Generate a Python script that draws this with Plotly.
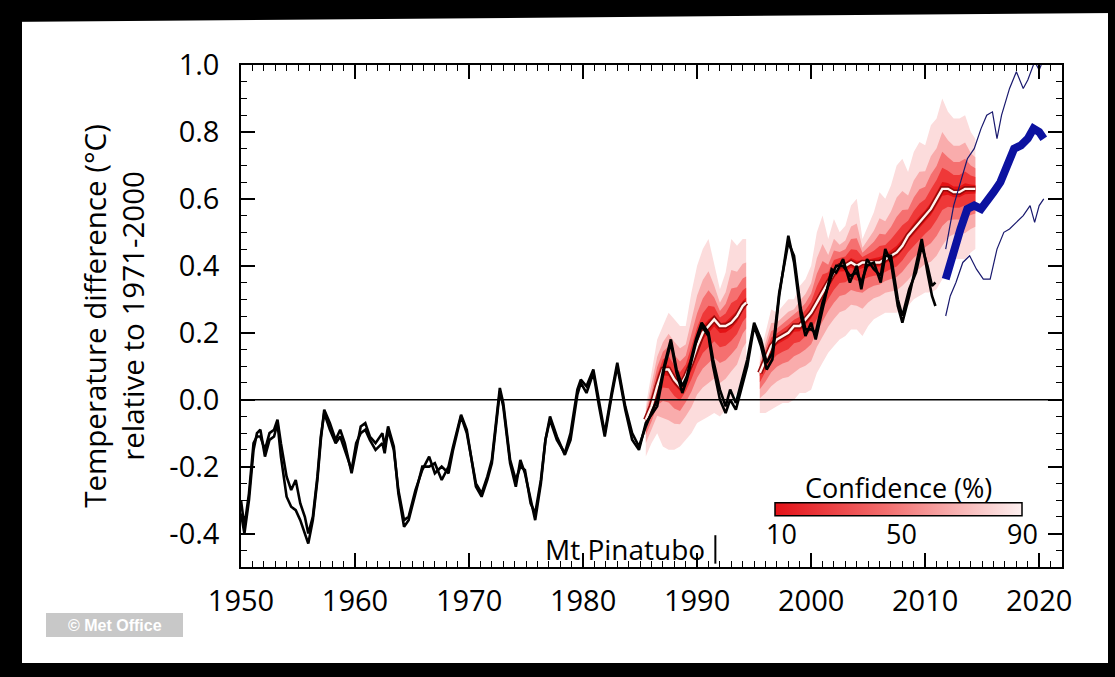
import plotly.graph_objects as go
from statistics import NormalDist

# ---------------- data ----------------
obs_years = [1950.0, 1950.3, 1950.7, 1951.1, 1951.4, 1951.7, 1952.1, 1952.5, 1952.9, 1953.2,
             1953.5, 1954.0, 1954.4, 1954.8, 1955.2, 1955.6, 1955.9, 1956.3, 1956.7, 1957.0,
             1957.3, 1957.8, 1958.3, 1958.7, 1959.1, 1959.7, 1960.1, 1960.5, 1960.9, 1961.3,
             1961.8, 1962.4, 1962.6, 1962.9, 1963.4, 1963.8, 1964.3, 1964.7, 1965.3, 1965.9,
             1966.5, 1967.0, 1967.6, 1968.2, 1968.6, 1969.3, 1969.8, 1970.2, 1970.6, 1971.1,
             1971.6, 1972.0, 1972.4, 1972.7, 1973.0, 1973.3, 1973.6, 1974.1, 1974.5, 1974.9,
             1975.4, 1975.8, 1976.3, 1976.7, 1977.1, 1977.7, 1978.4, 1978.9, 1979.5, 1979.8,
             1980.3, 1980.9, 1981.4, 1981.9, 1982.5, 1983.0, 1983.7, 1984.3, 1984.9, 1985.5,
             1986.1, 1986.5, 1987.1, 1987.7, 1988.2, 1988.7, 1989.1, 1989.9, 1990.4, 1991.0,
             1991.4, 1992.0, 1992.5, 1992.9, 1993.4, 1993.8, 1994.4, 1995.0, 1995.6, 1996.1,
             1996.6, 1997.2, 1998.0, 1998.5, 1999.1, 1999.5, 2000.0, 2000.4, 2001.0, 2001.8,
             2002.2, 2002.8, 2003.4, 2004.0, 2004.4, 2004.9, 2005.5, 2006.1, 2006.5, 2007.0,
             2007.6, 2008.0, 2008.6, 2009.2, 2009.7, 2010.2, 2010.6, 2010.9]

obs_a = [-0.34, -0.40, -0.30, -0.15, -0.10, -0.09, -0.17, -0.12, -0.11, -0.07,
         -0.17, -0.29, -0.32, -0.33, -0.36, -0.40, -0.43, -0.36, -0.24, -0.12,
         -0.03, -0.07, -0.12, -0.09, -0.13, -0.22, -0.15, -0.08, -0.07, -0.11,
         -0.13, -0.10, -0.14, -0.08, -0.14, -0.28, -0.38, -0.36, -0.28, -0.20,
         -0.20, -0.19, -0.24, -0.20, -0.14, -0.045, -0.09, -0.18, -0.26, -0.29,
         -0.24, -0.19, -0.07, 0.025, -0.02, -0.10, -0.19, -0.26, -0.18, -0.22,
         -0.30, -0.36, -0.25, -0.12, -0.05, -0.11, -0.165, -0.12, 0.015, 0.05,
         0.02, 0.08, -0.02, -0.11, 0.01, 0.10, -0.03, -0.12, -0.15, -0.07,
         -0.04, -0.02, 0.09, 0.17, 0.08, 0.02, 0.06, 0.17, 0.22, 0.19,
         0.10, 0.00, -0.04, 0.00, -0.03, 0.02, 0.10, 0.22, 0.16, 0.09,
         0.12, 0.31, 0.49, 0.41, 0.25, 0.19, 0.23, 0.18, 0.27, 0.39,
         0.38, 0.42, 0.35, 0.40, 0.33, 0.42, 0.39, 0.37, 0.45, 0.41,
         0.28, 0.23, 0.31, 0.40, 0.48, 0.38, 0.31, 0.28]

obs_b = [-0.30, -0.38, -0.28, -0.13, -0.11, -0.11, -0.15, -0.10, -0.09, -0.06,
         -0.13, -0.23, -0.27, -0.24, -0.31, -0.35, -0.40, -0.35, -0.23, -0.11,
         -0.04, -0.09, -0.13, -0.11, -0.15, -0.21, -0.13, -0.10, -0.09, -0.12,
         -0.15, -0.13, -0.16, -0.09, -0.15, -0.27, -0.36, -0.35, -0.27, -0.21,
         -0.17, -0.22, -0.20, -0.22, -0.15, -0.05, -0.10, -0.18, -0.25, -0.28,
         -0.23, -0.18, -0.06, 0.035, -0.01, -0.10, -0.18, -0.24, -0.20, -0.21,
         -0.31, -0.34, -0.24, -0.12, -0.06, -0.12, -0.16, -0.10, 0.03, 0.06,
         0.04, 0.09, 0.00, -0.10, 0.02, 0.11, -0.02, -0.10, -0.14, -0.08,
         -0.03, 0.00, 0.10, 0.18, 0.09, 0.04, 0.07, 0.18, 0.23, 0.20,
         0.12, 0.03, -0.02, 0.03, -0.01, 0.04, 0.12, 0.23, 0.18, 0.11,
         0.14, 0.32, 0.47, 0.43, 0.27, 0.21, 0.21, 0.20, 0.29, 0.37,
         0.40, 0.40, 0.37, 0.38, 0.35, 0.40, 0.41, 0.35, 0.43, 0.43,
         0.30, 0.25, 0.33, 0.38, 0.46, 0.40, 0.34, 0.35]

# hindcast set 1 (ensemble mean and 90 % range)
hind1_years = [1985.5, 1986.0, 1986.5, 1987.0, 1987.5, 1988.0, 1988.5, 1989.0, 1989.5, 1990.0,
               1990.5, 1991.0, 1991.5, 1992.0, 1992.5, 1993.0, 1993.5, 1994.0, 1994.3]
hind1_mid = [-0.06, -0.02, 0.04, 0.09, 0.09, 0.06, 0.04, 0.07, 0.11, 0.16,
             0.20, 0.22, 0.24, 0.22, 0.22, 0.23, 0.25, 0.28, 0.29]
hind1_hi = [-0.02, 0.08, 0.18, 0.22, 0.26, 0.24, 0.22, 0.22, 0.32, 0.40,
            0.45, 0.48, 0.40, 0.33, 0.38, 0.48, 0.46, 0.48, 0.48]
hind1_lo = [-0.17, -0.13, -0.10, -0.14, -0.15, -0.15, -0.14, -0.12, -0.10, -0.07,
            -0.06, -0.05, -0.04, -0.05, -0.03, 0.00, 0.02, 0.08, 0.10]

# hindcast set 2
hind2_years = [1995.5, 1996.0, 1996.5, 1997.0, 1997.5, 1998.0, 1998.5, 1999.0, 1999.5, 2000.0,
               2000.5, 2001.0, 2001.5, 2002.0, 2002.5, 2003.0, 2003.5, 2004.0, 2004.5, 2005.0,
               2005.5, 2006.0, 2006.5, 2007.0, 2007.5, 2008.0, 2008.5, 2009.0, 2009.5, 2010.0,
               2010.5, 2011.0, 2011.5, 2012.0, 2012.5, 2013.0, 2013.5, 2014.0, 2014.4]
hind2_mid = [0.08, 0.12, 0.16, 0.18, 0.19, 0.20, 0.22, 0.22, 0.24, 0.26,
             0.29, 0.32, 0.35, 0.38, 0.40, 0.40, 0.41, 0.40, 0.41, 0.41,
             0.41, 0.41, 0.42, 0.43, 0.44, 0.46, 0.49, 0.51, 0.53, 0.55,
             0.57, 0.60, 0.63, 0.63, 0.62, 0.62, 0.63, 0.63, 0.63]
hind2_hi = [0.13, 0.20, 0.27, 0.26, 0.28, 0.30, 0.30, 0.34, 0.36, 0.40,
            0.50, 0.55, 0.48, 0.54, 0.50, 0.52, 0.58, 0.60, 0.48, 0.52,
            0.56, 0.62, 0.60, 0.64, 0.70, 0.72, 0.68, 0.74, 0.77, 0.76,
            0.82, 0.84, 0.90, 0.86, 0.84, 0.84, 0.85, 0.80, 0.78]
hind2_lo = [-0.04, -0.04, -0.03, -0.02, -0.01, -0.01, 0.00, 0.02, 0.02, 0.03,
            0.08, 0.11, 0.14, 0.16, 0.18, 0.19, 0.21, 0.21, 0.19, 0.22,
            0.24, 0.25, 0.26, 0.26, 0.26, 0.27, 0.28, 0.30, 0.31, 0.32,
            0.32, 0.33, 0.36, 0.40, 0.42, 0.42, 0.42, 0.44, 0.45]

# forecast (blue)
fc_years = [2011.8, 2012.5, 2013.1, 2013.7, 2014.3, 2014.9, 2015.4, 2016.0, 2016.6, 2017.2,
            2017.8, 2018.4, 2019.0, 2019.5, 2020.0, 2020.4]
fc_mid = [0.36, 0.45, 0.51, 0.57, 0.58, 0.57, 0.59, 0.62, 0.65, 0.70,
          0.75, 0.76, 0.78, 0.81, 0.80, 0.78]
fc_hi_years = [2011.8, 2012.5, 2013.1, 2013.7, 2014.3, 2014.9, 2015.4, 2015.9, 2016.3, 2016.7,
               2017.4, 2018.0, 2018.6, 2019.0, 2019.6, 2020.0, 2020.4]
fc_hi = [0.45, 0.58, 0.65, 0.72, 0.75, 0.81, 0.85, 0.86, 0.78, 0.85,
         0.93, 0.98, 0.93, 0.955, 1.01, 0.985, 1.02]
fc_lo_years = [2011.8, 2012.2, 2012.7, 2013.3, 2013.9, 2014.5, 2015.1, 2015.7, 2016.3, 2016.9,
               2017.4, 2018.0, 2018.6, 2019.2, 2019.6, 2020.0, 2020.4]
fc_lo = [0.25, 0.31, 0.35, 0.41, 0.43, 0.39, 0.36, 0.36, 0.45, 0.50,
         0.51, 0.53, 0.55, 0.58, 0.53, 0.58, 0.60]

conf_levels = [90, 70, 50, 30, 10]
conf_colors = ['rgb(252,220,220)', 'rgb(249,172,172)', 'rgb(245,112,112)',
               'rgb(239,56,56)', 'rgb(228,18,20)']
conf_ticks = [10, 50, 90]
conf_min, conf_max = 8, 90

pinatubo_year = 1991.6

x_tick_vals = [1950, 1960, 1970, 1980, 1990, 2000, 2010, 2020]
y_tick_vals = [-0.4, -0.2, 0.0, 0.2, 0.4, 0.6, 0.8, 1.0]
y_tick_text = ['-0.4', '-0.2', '0.0', '0.2', '0.4', '0.6', '0.8', '1.0']

# ---------------- figure ----------------
W, H = 1115, 677
ML, MR, MT, MB = 241, 53, 65, 110
PW, PH = W - ML - MR, H - MT - MB


def px(xp):
    return (xp - ML) / PW


def py(yp):
    return (H - MB - yp) / PH


FONT = 'Open Sans'
fig = go.Figure()

z90 = NormalDist().inv_cdf(0.5 + 90 / 200)


def add_fan(years, mid, hi, lo):
    for lev, col in zip(conf_levels, conf_colors):
        f = NormalDist().inv_cdf(0.5 + lev / 200) / z90
        up = [m + f * (h - m) for m, h in zip(mid, hi)]
        dn = [m - f * (m - l) for m, l in zip(mid, lo)]
        fig.add_trace(go.Scatter(x=years + years[::-1], y=up + dn[::-1], fill='toself',
                                 fillcolor=col, line=dict(width=0), mode='lines',
                                 hoverinfo='skip', showlegend=False))


add_fan(hind1_years, hind1_mid, hind1_hi, hind1_lo)
add_fan(hind2_years, hind2_mid, hind2_hi, hind2_lo)

for yrs, mid in [(hind1_years, hind1_mid), (hind2_years, hind2_mid)]:
    fig.add_trace(go.Scatter(x=yrs, y=mid, mode='lines', line=dict(color='rgb(150,10,10)', width=5.5),
                             showlegend=False, hoverinfo='skip'))
    fig.add_trace(go.Scatter(x=yrs, y=mid, mode='lines', line=dict(color='rgb(255,245,240)', width=2.4),
                             showlegend=False))

for vals in (obs_a, obs_b):
    fig.add_trace(go.Scatter(x=obs_years, y=vals, mode='lines',
                             line=dict(color='black', width=2.6), showlegend=False))

fig.add_trace(go.Scatter(x=fc_hi_years, y=fc_hi, mode='lines',
                         line=dict(color='rgb(25,25,110)', width=1.2), showlegend=False))
fig.add_trace(go.Scatter(x=fc_lo_years, y=fc_lo, mode='lines',
                         line=dict(color='rgb(25,25,110)', width=1.2), showlegend=False))
fig.add_trace(go.Scatter(x=fc_years, y=fc_mid, mode='lines',
                         line=dict(color='rgb(12,18,160)', width=8), showlegend=False))

# colour bar for the confidence shading (labels added as annotations below)
CB_LEFT, CB_LEN, CB_Y = 775, 247, 510
fig.add_trace(go.Scatter(
    x=[None], y=[None], mode='markers', showlegend=False, hoverinfo='skip',
    marker=dict(color=[conf_min, conf_max], cmin=conf_min, cmax=conf_max, showscale=True,
                colorscale=[[0, 'rgb(228,18,24)'], [0.45, 'rgb(242,110,110)'], [1, 'rgb(253,240,240)']],
                colorbar=dict(orientation='h', x=px(CB_LEFT), xanchor='left', y=py(CB_Y), yanchor='middle',
                              len=CB_LEN, lenmode='pixels', thickness=13, thicknessmode='pixels',
                              outlinecolor='black', outlinewidth=1.5, showticklabels=False, ticks='',
                              xpad=0, ypad=0))))

axis_font = dict(family=FONT, size=29, color='black')
fig.update_xaxes(range=[1950, 2022], tickvals=x_tick_vals, ticks='inside', ticklen=14, tickwidth=1.5,
                 tickcolor='black', showline=True, linecolor='black', linewidth=1.5, mirror='ticks',
                 showgrid=False, zeroline=False, tickfont=axis_font, ticklabelstandoff=7,
                 minor=dict(dtick=1, tick0=1950, ticks='inside', ticklen=6, tickwidth=1, tickcolor='black'))
fig.update_yaxes(range=[-0.5, 1.0], tickvals=y_tick_vals, ticktext=y_tick_text, ticks='inside',
                 ticklen=14, tickwidth=1.5, tickcolor='black', showline=True, linecolor='black',
                 linewidth=1.5, mirror='ticks', showgrid=False, zeroline=False, tickfont=axis_font,
                 ticklabelstandoff=14,
                 minor=dict(dtick=0.05, tick0=0, ticks='inside', ticklen=6, tickwidth=1, tickcolor='black'),
                 title=dict(text='Temperature difference (°C)<br>relative to 1971-2000',
                            font=dict(family=FONT, size=29.5, color='black'), standoff=16))

shapes = [
    dict(type='line', xref='paper', yref='y', x0=0, x1=1, y0=0, y1=0,
         line=dict(color='black', width=1.5), layer='above'),
    dict(type='line', xref='x', yref='y', x0=pinatubo_year, x1=pinatubo_year, y0=-0.405, y1=-0.49,
         line=dict(color='black', width=2), layer='above'),
    # Met Office badge
    dict(type='rect', xref='paper', yref='paper', x0=px(46), x1=px(183), y0=py(637), y1=py(613),
         fillcolor='rgb(200,200,200)', line=dict(width=0)),
    # black frame
    dict(type='path', xref='paper', yref='paper',
         path=f'M {px(-5)},{py(-5)} L {px(1120)},{py(-5)} L {px(1120)},{py(13)} L {px(-5)},{py(22)} Z',
         fillcolor='black', line=dict(width=0)),
    dict(type='rect', xref='paper', yref='paper', x0=px(-5), x1=px(22), y0=py(680), y1=py(-5),
         fillcolor='black', line=dict(width=0)),
    dict(type='rect', xref='paper', yref='paper', x0=px(1108), x1=px(1120), y0=py(680), y1=py(-5),
         fillcolor='black', line=dict(width=0)),
    dict(type='rect', xref='paper', yref='paper', x0=px(-5), x1=px(1120), y0=py(680), y1=py(663),
         fillcolor='black', line=dict(width=0)),
]

cb_font = dict(family=FONT, size=27, color='black')
annotations = [
    dict(text='Mt Pinatubo', x=pinatubo_year - 0.75, y=-0.445, xref='x', yref='y', xanchor='right',
         yanchor='middle', showarrow=False, font=dict(family=FONT, size=28, color='black')),
    dict(text='<b>© Met Office</b>', x=px(114.5), y=py(625), xref='paper', yref='paper',
         xanchor='center', yanchor='middle',
         showarrow=False, font=dict(family='Liberation Sans', size=16, color='white')),
    dict(text='Confidence (%)', x=px(CB_LEFT + CB_LEN / 2), y=py(487), xref='paper', yref='paper',
         xanchor='center', yanchor='middle', showarrow=False, font=cb_font),
]
for v in conf_ticks:
    cx = CB_LEFT + (v - conf_min) / (conf_max - conf_min) * CB_LEN
    annotations.append(dict(text=str(v), x=px(cx), y=py(533), xref='paper', yref='paper',
                            xanchor='center', yanchor='middle', showarrow=False, font=cb_font))

fig.update_layout(width=W, height=H, margin=dict(l=ML, r=MR, t=MT, b=MB, autoexpand=False),
                  paper_bgcolor='white', plot_bgcolor='white', showlegend=False,
                  shapes=shapes, annotations=annotations, font=dict(family=FONT, color='black'))

fig.write_html('out.html', config={'displayModeBar': False},
               post_script="document.body.style.margin='0';document.body.style.overflow='hidden';")
